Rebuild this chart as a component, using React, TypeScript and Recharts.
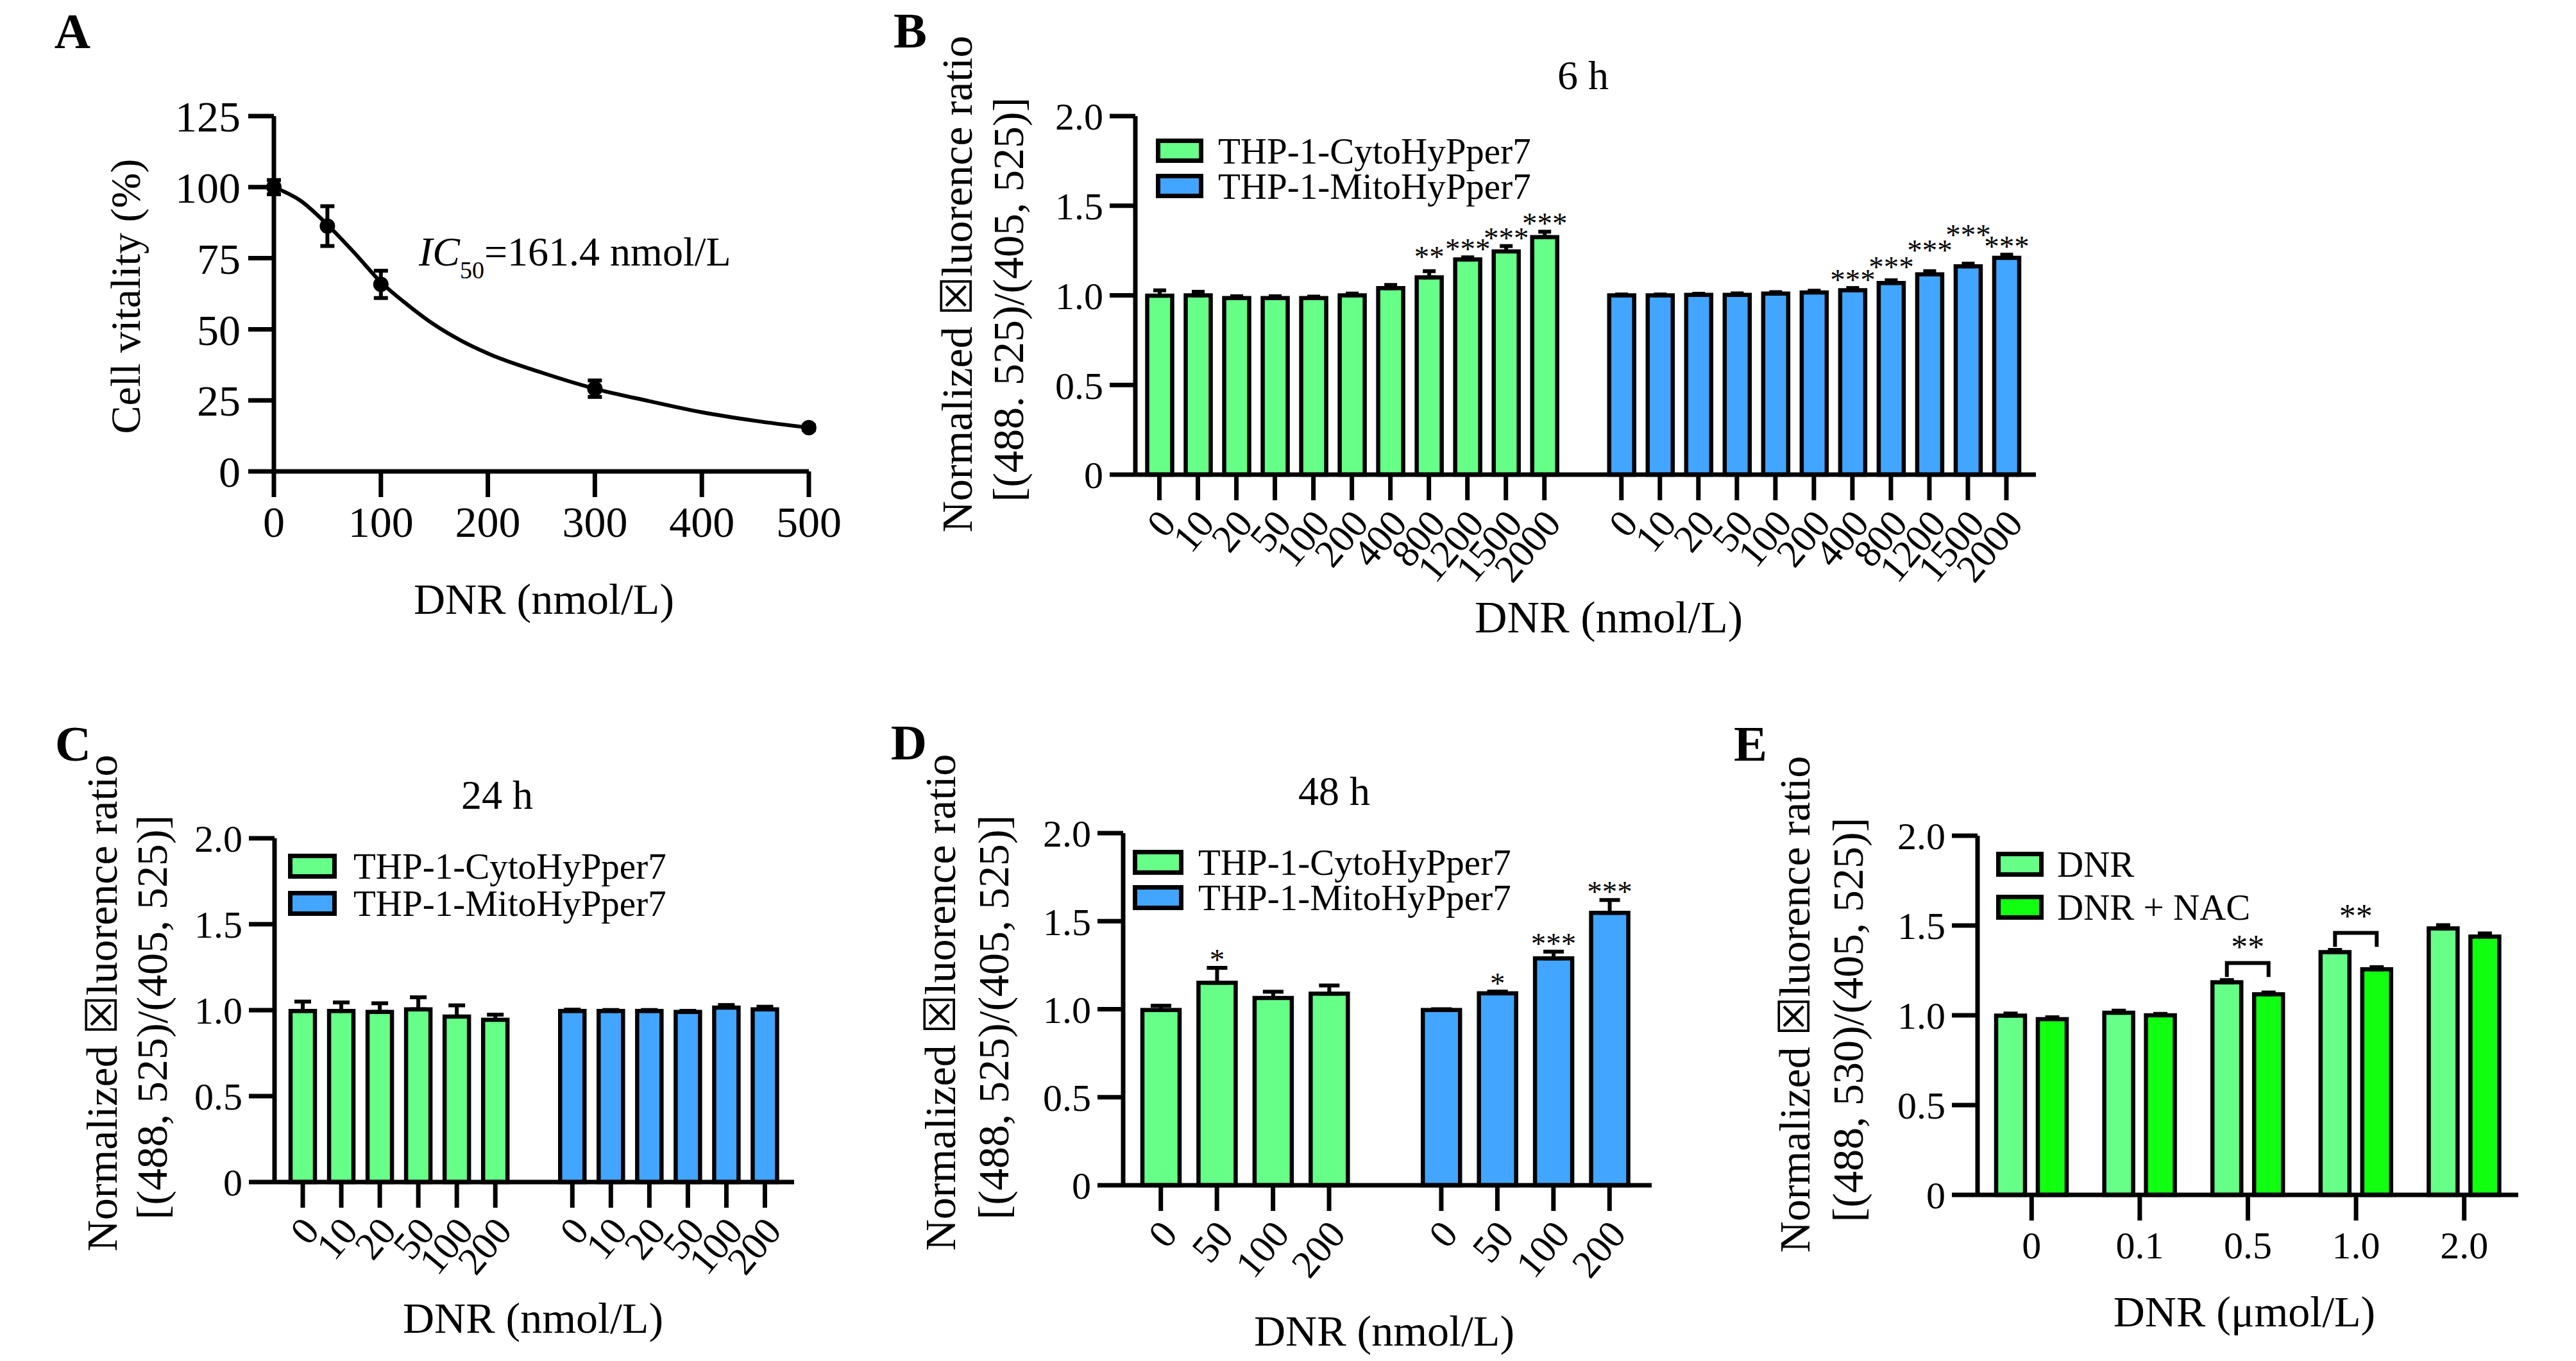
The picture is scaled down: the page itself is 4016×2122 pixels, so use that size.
import React from 'react';
import {
  BarChart,
  Bar,
  ComposedChart,
  Line,
  Scatter,
  XAxis,
  YAxis,
  ErrorBar,
  Legend,
  LabelList,
  Cell,
} from 'recharts';

const FONT = '"Liberation Serif", "Times New Roman", serif';
const INK = '#000';
const LIGHT_GREEN = '#66FF88';
const BLUE = '#42A5FF';
const LIME = '#11FF11';
const LINE_W = 7;
const BAR_LINE = 6.5;

// A: cell vitality after DNR
const vitalityDose = [0, 50, 100, 300, 500];
const vitalityMean = [100, 86.3, 65.8, 29.1, 15.4];
const vitalitySem = [2.5, 7, 4.8, 2.9, 0.8];
const fitDose = [0, 25, 50, 75, 100, 125, 150, 175, 200, 250, 300, 350, 400, 450, 500];
const fitVitality = [100, 95.2, 86.8, 77.0, 66.6, 58.6, 51.6, 46.0, 41.5, 34.8, 29.1, 24.8, 20.8, 17.8, 15.4];

// B: 6 h
const dose6h = ['0', '10', '20', '50', '100', '200', '400', '800', '1200', '1500', '2000'];
const cyto6h = [0.998, 1.0, 0.985, 0.985, 0.985, 1.0, 1.04, 1.1, 1.2, 1.245, 1.325];
const cyto6hErr = [0.03, 0.02, 0.01, 0.01, 0.008, 0.01, 0.018, 0.035, 0.012, 0.03, 0.03];
const cyto6hSig = ['', '', '', '', '', '', '', '**', '***', '***', '***'];
const cyto6hLift = [0, 0, 0, 0, 0, 0, 0, 0.035, 0, 0, 0];
const mito6h = [1.0, 1.0, 1.003, 1.003, 1.01, 1.016, 1.029, 1.069, 1.117, 1.162, 1.209];
const mito6hErr = [0.005, 0.005, 0.006, 0.008, 0.008, 0.01, 0.012, 0.015, 0.018, 0.015, 0.018];
const mito6hSig = ['', '', '', '', '', '', '***', '***', '***', '***', '***'];
const mito6hLift = [0, 0, 0, 0, 0, 0, 0, 0.03, 0.07, 0.115, 0];

// C: 24 h
const dose24h = ['0', '10', '20', '50', '100', '200'];
const cyto24h = [0.995, 0.995, 0.99, 1.005, 0.963, 0.944];
const cyto24hErr = [0.055, 0.05, 0.05, 0.07, 0.065, 0.03];
const mito24h = [0.995, 0.995, 0.995, 0.99, 1.015, 1.005];
const mito24hErr = [0.008, 0.006, 0.006, 0.006, 0.015, 0.015];

// D: 48 h
const dose48h = ['0', '50', '100', '200'];
const cyto48h = [0.995, 1.15, 1.064, 1.088];
const cyto48hErr = [0.025, 0.085, 0.035, 0.047];
const cyto48hSig = ['', '*', '', ''];
const mito48h = [0.995, 1.09, 1.289, 1.547];
const mito48hErr = [0.005, 0.01, 0.038, 0.073];
const mito48hSig = ['', '*', '***', '***'];

// E: DNR with / without NAC
const doseNac = ['0', '0.1', '0.5', '1.0', '2.0'];
const dnrOnly = [0.998, 1.014, 1.184, 1.352, 1.484];
const dnrOnlyErr = [0.012, 0.012, 0.012, 0.012, 0.018];
const dnrNac = [0.979, 1.0, 1.117, 1.256, 1.438];
const dnrNacErr = [0.01, 0.008, 0.01, 0.012, 0.018];
const nacSig = ['', '', '**', '**', ''];

const hyperLegend = [
  { name: 'THP-1-CytoHyPper7', color: LIGHT_GREEN },
  { name: 'THP-1-MitoHyPper7', color: BLUE },
];
const nacLegend = [
  { name: 'DNR', color: LIGHT_GREEN },
  { name: 'DNR + NAC', color: LIME },
];

const ratioTicks = [0, 0.5, 1, 1.5, 2];
const fmtRatio = (v: number) => (v === 0 ? '0' : v.toFixed(1));
const axisStroke = { stroke: INK, strokeWidth: LINE_W };

type Row = {
  key: string;
  label: string;
  v: number | null;
  err?: number[];
  sig: string;
  lift: number;
  fill: string;
};

const groupRows = (
  prefix: string,
  doses: string[],
  vals: number[],
  errs: number[],
  fill: string,
  sigs?: string[],
  lifts?: number[],
): Row[] =>
  doses.map((d, i) => ({
    key: `${prefix}-${d}`,
    label: d,
    v: vals[i],
    err: [0, errs[i]],
    sig: sigs ? sigs[i] : '',
    lift: lifts ? lifts[i] : 0,
    fill,
  }));

const withGap = (a: Row[], b: Row[]): Row[] => [
  ...a,
  { key: 'gap', label: '', v: null, sig: '', lift: 0, fill: 'none' },
  ...b,
];

type Box = { left: number; top: number; right: number; bottom: number };

const Note = ({
  x, y, size, rotate, bold, children,
}: { x: number; y: number; size: number; rotate?: number; bold?: boolean; children: React.ReactNode }) => (
  <div
    style={{
      position: 'absolute',
      left: x,
      top: y,
      transform: `translate(-50%, -50%)${rotate ? ` rotate(${rotate}deg)` : ''}`,
      fontSize: size,
      fontWeight: bold ? 700 : 400,
      lineHeight: 1,
      whiteSpace: 'nowrap',
    }}
  >
    {children}
  </div>
);

const SwatchLegend = ({
  items, swatchW, swatchH, pitch, gap,
}: { items: { name: string; color: string }[]; swatchW: number; swatchH: number; pitch: number; gap: number }) => (
  <div>
    {items.map((it) => (
      <div key={it.name} style={{ display: 'flex', alignItems: 'center', height: pitch }}>
        <div
          style={{
            width: swatchW,
            height: swatchH,
            boxSizing: 'border-box',
            border: `7px solid ${INK}`,
            background: it.color,
            marginRight: gap,
          }}
        />
        <span style={{ fontSize: 57, lineHeight: 1, color: INK }}>{it.name}</span>
      </div>
    ))}
  </div>
);

const Y_W = 200;
const TOP_PAD = 70;
const RIGHT_PAD = 80;

type DosePanelProps = {
  box: Box;
  rows: Row[];
  barSize: number;
  cap: number;
  padding: { left: number; right: number };
  legend: { top: number; left: number; pitch: number; swatchW: number; swatchH: number; gap: number };
};

const DosePanel = ({ box, rows, barSize, cap, padding, legend }: DosePanelProps) => {
  const width = box.right - box.left + Y_W + RIGHT_PAD;
  const height = box.bottom - box.top + TOP_PAD + 260;
  const ppu = (box.bottom - box.top) / 2;

  const slantTick = (props: any) => {
    const row = rows.find((r) => r.key === props.payload?.value);
    if (!row || row.key === 'gap') return null;
    return (
      <g transform={`translate(${props.x},${props.y})`}>
        <line x1={0} y1={0} x2={0} y2={40} stroke={INK} strokeWidth={LINE_W} />
        <text
          transform="translate(12,64) rotate(-50)"
          textAnchor="end"
          dy="0.35em"
          fontSize={61}
          fill={INK}
        >
          {row.label}
        </text>
      </g>
    );
  };

  // significance stars sit just above each error bar
  const starLabel = (props: any) => {
    const row = rows.find((r) => r.key === props.value);
    if (!row || !row.sig || row.v == null) return null;
    const vb = props.viewBox ?? props;
    const cx = vb.x + vb.width / 2;
    const errTop = vb.y - ((row.err ? row.err[1] : 0) + row.lift) * ppu;
    return (
      <text x={cx} y={errTop + 3} textAnchor="middle" fontSize={47} fill={INK}>
        {row.sig}
      </text>
    );
  };

  return (
    <div style={{ position: 'absolute', left: box.left - Y_W, top: box.top - TOP_PAD }}>
      <BarChart
        width={width}
        height={height}
        data={rows}
        margin={{ top: TOP_PAD, right: RIGHT_PAD, bottom: 0, left: 0 }}
        barSize={barSize}
      >
        <XAxis
          dataKey="key"
          height={260}
          padding={padding}
          interval={0}
          tickSize={0}
          tickMargin={0}
          tickLine={false}
          axisLine={axisStroke}
          tick={slantTick}
        />
        <YAxis
          width={Y_W}
          domain={[0, 2]}
          ticks={ratioTicks}
          interval={0}
          tickSize={40}
          tickMargin={10}
          tickFormatter={fmtRatio}
          tick={{ fill: INK, fontSize: 60 }}
          axisLine={axisStroke}
          tickLine={axisStroke}
        />
        <XAxis xAxisId="frame" orientation="top" type="number" domain={[0, 1]} height={0} tick={false} tickLine={false} axisLine={axisStroke} />
        <YAxis yAxisId="frame" orientation="right" type="number" domain={[0, 1]} width={0} tick={false} tickLine={false} axisLine={axisStroke} />
        <Legend
          layout="vertical"
          align="center"
          verticalAlign="middle"
          wrapperStyle={{ top: legend.top + TOP_PAD - 30, left: legend.left, width: 'auto' }}
          content={() => (
            <SwatchLegend
              items={hyperLegend}
              swatchW={legend.swatchW}
              swatchH={legend.swatchH}
              pitch={legend.pitch}
              gap={legend.gap}
            />
          )}
        />
        <Bar dataKey="v" stroke={INK} strokeWidth={BAR_LINE} isAnimationActive={false}>
          {rows.map((r) => (
            <Cell key={r.key} fill={r.fill} />
          ))}
          <ErrorBar dataKey="err" direction="y" width={cap} stroke={INK} strokeWidth={6} isAnimationActive={false} />
          <LabelList dataKey="key" content={starLabel} />
        </Bar>
      </BarChart>
    </div>
  );
};

const VitalityPanel = () => {
  const box: Box = { left: 427, top: 181, right: 1261, bottom: 735 };
  const points = vitalityDose.map((x, i) => ({ x, y: vitalityMean[i], err: vitalitySem[i] }));
  const fit = fitDose.map((x, i) => ({ x, y: fitVitality[i] }));
  return (
    <div style={{ position: 'absolute', left: box.left - Y_W, top: box.top - TOP_PAD }}>
      <ComposedChart
        width={box.right - box.left + Y_W + RIGHT_PAD}
        height={box.bottom - box.top + TOP_PAD + 150}
        margin={{ top: TOP_PAD, right: RIGHT_PAD, bottom: 0, left: 0 }}
      >
        <XAxis
          type="number"
          dataKey="x"
          domain={[0, 500]}
          ticks={[0, 100, 200, 300, 400, 500]}
          interval={0}
          height={150}
          tickSize={40}
          tickMargin={14}
          tick={{ fill: INK, fontSize: 68 }}
          axisLine={axisStroke}
          tickLine={axisStroke}
        />
        <YAxis
          type="number"
          dataKey="y"
          domain={[0, 125]}
          ticks={[0, 25, 50, 75, 100, 125]}
          interval={0}
          width={Y_W}
          tickSize={40}
          tickMargin={12}
          tick={{ fill: INK, fontSize: 68 }}
          axisLine={axisStroke}
          tickLine={axisStroke}
        />
        <XAxis xAxisId="frame" orientation="top" type="number" domain={[0, 1]} height={0} tick={false} tickLine={false} axisLine={axisStroke} />
        <YAxis yAxisId="frame" orientation="right" type="number" domain={[0, 1]} width={0} tick={false} tickLine={false} axisLine={axisStroke} />
        <Line
          data={fit}
          dataKey="y"
          type="monotone"
          dot={false}
          stroke={INK}
          strokeWidth={6}
          isAnimationActive={false}
        />
        <Scatter
          data={points}
          dataKey="y"
          fill={INK}
          isAnimationActive={false}
          shape={(p: any) => <circle cx={p.cx} cy={p.cy} r={12} fill={INK} />}
        >
          <ErrorBar dataKey="err" direction="y" width={11} stroke={INK} strokeWidth={6} isAnimationActive={false} />
        </Scatter>
      </ComposedChart>
    </div>
  );
};

const E_BAR = 45;
const E_GAP = 20;

const NacPanel = () => {
  const box: Box = { left: 3083, top: 1303, right: 3926, bottom: 1863 };
  const rows = doseNac.map((d, i) => ({
    key: d,
    dnr: dnrOnly[i],
    dnrErr: [0, dnrOnlyErr[i]],
    nac: dnrNac[i],
    nacErr: [0, dnrNacErr[i]],
    sig: nacSig[i],
  }));

  // bracket from the DNR bar to the DNR + NAC bar, drawn off the NAC bar's rectangle
  const bracket = (props: any) => {
    const row = rows.find((r) => r.key === props.value);
    if (!row || !row.sig) return null;
    const vb = props.viewBox ?? props;
    const zero = vb.y + vb.height;
    const ppu = vb.height / row.nac;
    const right = vb.x + vb.width / 2;
    const left = right - (E_BAR + E_GAP);
    const topY = zero - (row.dnr + row.dnrErr[1] + 0.095) * ppu;
    const legY = topY + 0.078 * ppu;
    return (
      <g>
        <path d={`M${left},${legY}V${topY}H${right}V${legY}`} fill="none" stroke={INK} strokeWidth={6} />
        <text x={(left + right) / 2} y={topY - 8} textAnchor="middle" fontSize={52} fill={INK}>
          {row.sig}
        </text>
      </g>
    );
  };

  return (
    <div style={{ position: 'absolute', left: box.left - Y_W, top: box.top - TOP_PAD }}>
      <BarChart
        width={box.right - box.left + Y_W + RIGHT_PAD}
        height={box.bottom - box.top + TOP_PAD + 160}
        data={rows}
        margin={{ top: TOP_PAD, right: RIGHT_PAD, bottom: 0, left: 0 }}
        barSize={E_BAR}
        barGap={E_GAP}
      >
        <XAxis
          dataKey="key"
          height={160}
          interval={0}
          tickSize={40}
          tickMargin={16}
          tick={{ fill: INK, fontSize: 60 }}
          axisLine={axisStroke}
          tickLine={axisStroke}
        />
        <YAxis
          width={Y_W}
          domain={[0, 2]}
          ticks={ratioTicks}
          interval={0}
          tickSize={40}
          tickMargin={10}
          tickFormatter={fmtRatio}
          tick={{ fill: INK, fontSize: 60 }}
          axisLine={axisStroke}
          tickLine={axisStroke}
        />
        <XAxis xAxisId="frame" orientation="top" type="number" domain={[0, 1]} height={0} tick={false} tickLine={false} axisLine={axisStroke} />
        <YAxis yAxisId="frame" orientation="right" type="number" domain={[0, 1]} width={0} tick={false} tickLine={false} axisLine={axisStroke} />
        <Legend
          layout="vertical"
          align="center"
          verticalAlign="middle"
          wrapperStyle={{ top: 41 + TOP_PAD - 30, left: 229, width: 'auto' }}
          content={() => <SwatchLegend items={nacLegend} swatchW={74} swatchH={39} pitch={67} gap={21} />}
        />
        <Bar dataKey="dnr" name="DNR" fill={LIGHT_GREEN} stroke={INK} strokeWidth={BAR_LINE} isAnimationActive={false}>
          <ErrorBar dataKey="dnrErr" direction="y" width={11} stroke={INK} strokeWidth={6} isAnimationActive={false} />
        </Bar>
        <Bar dataKey="nac" name="DNR + NAC" fill={LIME} stroke={INK} strokeWidth={BAR_LINE} isAnimationActive={false}>
          <ErrorBar dataKey="nacErr" direction="y" width={11} stroke={INK} strokeWidth={6} isAnimationActive={false} />
          <LabelList dataKey="key" content={bracket} />
        </Bar>
      </BarChart>
    </div>
  );
};

const yLine1 = 'Normalized \u2612luorence ratio';
const LETTER = 78;

const App = () => {
  const rows6h = withGap(
    groupRows('cyto', dose6h, cyto6h, cyto6hErr, LIGHT_GREEN, cyto6hSig, cyto6hLift),
    groupRows('mito', dose6h, mito6h, mito6hErr, BLUE, mito6hSig, mito6hLift),
  );
  const rows24h = withGap(
    groupRows('cyto', dose24h, cyto24h, cyto24hErr, LIGHT_GREEN),
    groupRows('mito', dose24h, mito24h, mito24hErr, BLUE),
  );
  const rows48h = withGap(
    groupRows('cyto', dose48h, cyto48h, cyto48hErr, LIGHT_GREEN, cyto48hSig),
    groupRows('mito', dose48h, mito48h, mito48hErr, BLUE, mito48hSig),
  );

  return (
    <div
      style={{
        position: 'absolute',
        left: 0,
        top: 0,
        width: 4016,
        height: 2122,
        background: '#fff',
        color: INK,
        fontFamily: FONT,
        overflow: 'hidden',
      }}
    >
      {/* A */}
      <VitalityPanel />
      <Note x={113} y={49} size={LETTER} bold>A</Note>
      <Note x={196} y={462} size={66} rotate={-90}>Cell vitality (%)</Note>
      <Note x={848} y={934} size={68}>DNR (nmol/L)</Note>
      <div style={{ position: 'absolute', left: 653, top: 361, fontSize: 64, lineHeight: 1, whiteSpace: 'nowrap' }}>
        <i>IC</i>
        <span style={{ fontSize: 38, verticalAlign: -20 }}>50</span>=161.4 nmol/L
      </div>

      {/* B */}
      <DosePanel
        box={{ left: 1770, top: 181, right: 3174, bottom: 740 }}
        rows={rows6h}
        barSize={39}
        cap={10}
        padding={{ left: 7.5, right: 16 }}
        legend={{ top: 56.5, left: 232, pitch: 55, swatchW: 74, swatchH: 38, gap: 23 }}
      />
      <Note x={1419} y={48} size={LETTER} bold>B</Note>
      <Note x={2468} y={118} size={64}>6 h</Note>
      <Note x={1492} y={443} size={68} rotate={-90}>{yLine1}</Note>
      <Note x={1572} y={467} size={68} rotate={-90}>[(488. 525)/(405, 525)]</Note>
      <Note x={2508} y={963} size={70}>DNR (nmol/L)</Note>

      {/* C */}
      <DosePanel
        box={{ left: 428, top: 1307, right: 1238, bottom: 1843 }}
        rows={rows24h}
        barSize={38}
        cap={13}
        padding={{ left: 14, right: 15.5 }}
        legend={{ top: 44.5, left: 221, pitch: 58, swatchW: 76, swatchH: 39, gap: 26 }}
      />
      <Note x={114} y={1160} size={LETTER} bold>C</Note>
      <Note x={775} y={1240} size={64}>24 h</Note>
      <Note x={159} y={1564} size={68} rotate={-90}>{yLine1}</Note>
      <Note x={237} y={1586} size={68} rotate={-90}>[(488, 525)/(405, 525)]</Note>
      <Note x={831} y={2055} size={68}>DNR (nmol/L)</Note>

      {/* D */}
      <DosePanel
        box={{ left: 1751, top: 1299, right: 2575, bottom: 1848 }}
        rows={rows48h}
        barSize={58}
        cap={16}
        padding={{ left: 15, right: 22 }}
        legend={{ top: 48, left: 215, pitch: 55, swatchW: 79, swatchH: 39, gap: 23 }}
      />
      <Note x={1417} y={1158} size={LETTER} bold>D</Note>
      <Note x={2080} y={1234} size={64}>48 h</Note>
      <Note x={1466} y={1563} size={68} rotate={-90}>{yLine1}</Note>
      <Note x={1549} y={1586} size={68} rotate={-90}>[(488, 525)/(405, 525)]</Note>
      <Note x={2158} y={2075} size={68}>DNR (nmol/L)</Note>

      {/* E */}
      <NacPanel />
      <Note x={2729} y={1160} size={LETTER} bold>E</Note>
      <Note x={2798} y={1566} size={68} rotate={-90}>{yLine1}</Note>
      <Note x={2881} y={1590} size={68} rotate={-90}>[(488, 530)/(405, 525)]</Note>
      <Note x={3499} y={2045} size={68}>DNR (μmol/L)</Note>
    </div>
  );
};

export default App;
